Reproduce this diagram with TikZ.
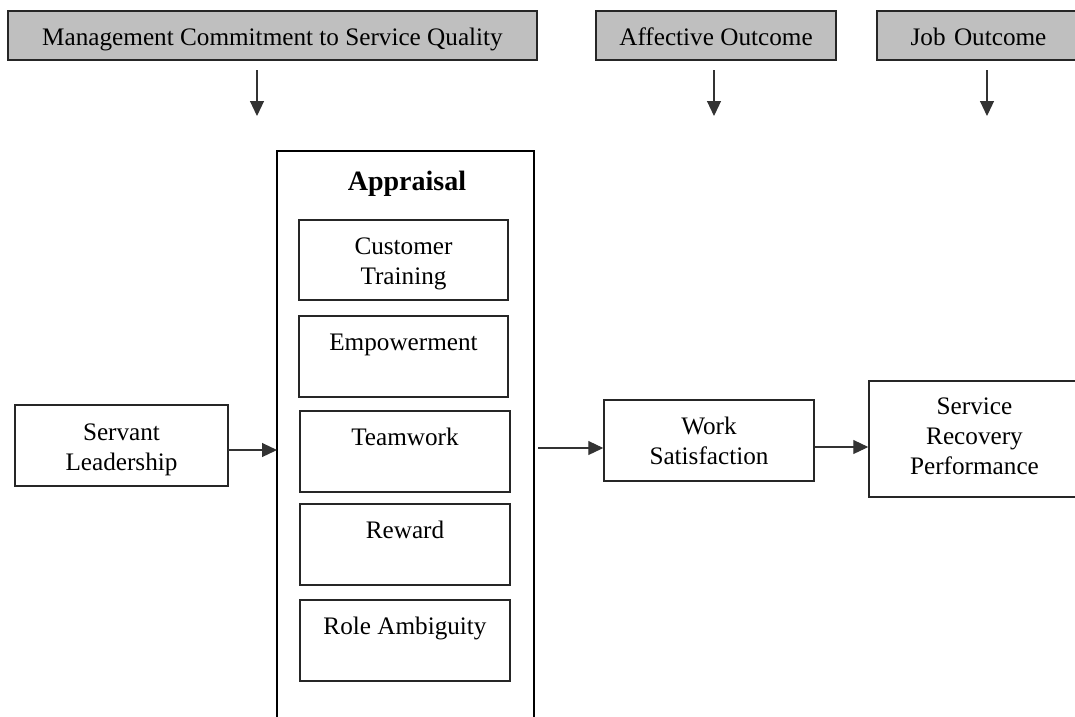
\documentclass[tikz,border=0pt]{standalone}
\usepackage{fontspec}
\setmainfont{Liberation Serif}
\usetikzlibrary{arrows.meta}
\newcommand{\dn}[1]{\raisebox{-5pt}[\height][\depth]{#1}}
\newcommand{\dnb}[1]{\raisebox{-4pt}[\height][\depth]{#1}}
\newcommand{\upa}[1]{\raisebox{3pt}[\height][\depth]{#1}}
\begin{document}
\begin{tikzpicture}[x=1pt,y=-1pt,
  every node/.style={font=\fontsize{25.2}{30}\selectfont, align=center, inner sep=0pt},
  header/.style={draw=black!85, line width=1.4pt, fill=black!25, minimum height=49pt, text height=24pt, text depth=4pt},
  box/.style={draw=black!85, line width=1.5pt, minimum width=210pt, minimum height=81pt},
  bigbox/.style={draw=black, line width=2.4pt},
  arr/.style={draw=black!80, line width=1.1pt, -{Triangle[length=15pt,width=14pt]}}
]
\useasboundingbox (0,0) rectangle (1075,716);
% headers
\node[header, minimum width=529pt] (h1) at (272.5,35.5) {Management Commitment to Service Quality};
\node[header, minimum width=240pt] (h2) at (716,35.5) {Affective Outcome};
\node[header, minimum width=203pt, text width=203pt] (h3) at (978.5,35.5) {Job Outcome};
% header arrows
\coordinate (a1s) at (257,70); \coordinate (a1e) at (257,116);
\coordinate (a2s) at (714,70); \coordinate (a2e) at (714,116);
\coordinate (a3s) at (987,70); \coordinate (a3e) at (987,116);
\draw[arr] (a1s) -- (a1e);
\draw[arr] (a2s) -- (a2e);
\draw[arr] (a3s) -- (a3e);
% appraisal
\node[bigbox, minimum width=257pt, minimum height=590pt] (app) at (405.5,446) {};
\node[font=\bfseries\fontsize{28}{30}\selectfont, anchor=base] (apptitle) at (407,190) {Appraisal};
\node[box, minimum width=209pt, minimum height=80pt] (ct) at (403.5,260) {\dnb{Customer}\\\dnb{Training}};
\node[box, minimum width=209pt] (emp) at (403.5,356.5) {\dn{Empowerment}\\\strut};
\node[box] (tw) at (405,451.5) {\dn{Teamwork}\\\strut};
\node[box] (rw) at (405,544.5) {\dn{Reward}\\\strut};
\node[box] (ra) at (405,640.5) {\dn{Role Ambiguity}\\\strut};
% left and right
\node[box, minimum width=213pt] (sl) at (121.5,445.5) {\dnb{Servant}\\\dnb{Leadership}};
\node[box] (ws) at (709,440.5) {Work\\Satisfaction};
\node[box, minimum width=211pt, minimum height=116pt] (srp) at (974.5,439) {\upa{Service}\\\upa{Recovery}\\\upa{Performance}};
% connectors
\coordinate (c1) at (228,450);
\coordinate (c1e) at (277,450);
\draw[arr] (c1) -- (c1e);
\coordinate (c2) at (538,448);
\draw[arr] (c2) -- (ws.west |- c2);
\coordinate (c3) at (815,447);
\draw[arr] (c3) -- (srp.west |- c3);
\end{tikzpicture}
\end{document}
